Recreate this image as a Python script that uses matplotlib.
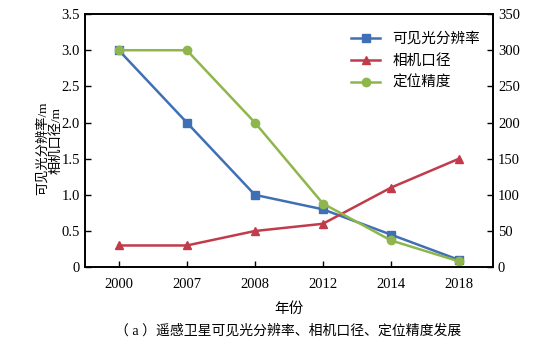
import matplotlib.pyplot as plt
from matplotlib import font_manager

names = {f.name for f in font_manager.fontManager.ttflist}
serif = 'Liberation Serif' if 'Liberation Serif' in names else 'DejaVu Serif'
plt.rcParams['font.family'] = [serif, 'Noto Sans CJK SC']

# data
years = ['2000', '2007', '2008', '2012', '2014', '2018']
resolution = [3.0, 2.0, 1.0, 0.8, 0.45, 0.1]      # m, left axis
aperture = [0.3, 0.3, 0.5, 0.6, 1.1, 1.5]         # m, left axis
positioning = [300, 300, 200, 88, 37, 8]          # right axis

blue = '#3f70b6'
red = '#c23b4a'
green = '#8fb64c'

fig = plt.figure(figsize=(5.33, 3.52), dpi=100)
ax = fig.add_axes([0.159, 0.241, 0.766, 0.719])
ax2 = ax.twinx()

x = range(len(years))
l1, = ax.plot(x, resolution, color=blue, marker='s', ms=6, lw=1.8, label='可见光分辨率')
l2, = ax.plot(x, aperture, color=red, marker='^', ms=6, lw=1.8, label='相机口径')
l3, = ax2.plot(x, positioning, color=green, marker='o', ms=6, lw=1.8, label='定位精度')

ax.set_xlim(-0.5, 5.5)
ax.set_ylim(0, 3.5)
ax2.set_ylim(0, 350)
ax.set_xticks(list(x))
ax.set_xticklabels(years)
ax.set_yticks([0, 0.5, 1.0, 1.5, 2.0, 2.5, 3.0, 3.5])
ax.set_yticklabels(['0', '0.5', '1.0', '1.5', '2.0', '2.5', '3.0', '3.5'])
ax2.set_yticks(range(0, 351, 50))

for a in (ax, ax2):
    a.tick_params(direction='in', labelsize=10.5, length=4, width=1)
    for s in a.spines.values():
        s.set_linewidth(1.2)
ax.tick_params(axis='x', pad=8)

ax.set_xlabel('年份', fontsize=10.5, labelpad=8)

# two-line y label, drawn as separate texts so the lines do not collide
fig.text(0.080, 0.58, '可见光分辨率/m', rotation=90, ha='center', va='center', fontsize=9.5)
fig.text(0.105, 0.60, '相机口径/m', rotation=90, ha='center', va='center', fontsize=9.5)

ax.legend(handles=[l1, l2, l3], loc='upper right', frameon=False, fontsize=10.5,
          handlelength=2.0, labelspacing=0.55, bbox_to_anchor=(1.0, 0.98))

fig.text(0.54, 0.06, '（ a ）遥感卫星可见光分辨率、相机口径、定位精度发展',
         ha='center', va='center', fontsize=10)

fig.savefig('out.png', dpi=100)
